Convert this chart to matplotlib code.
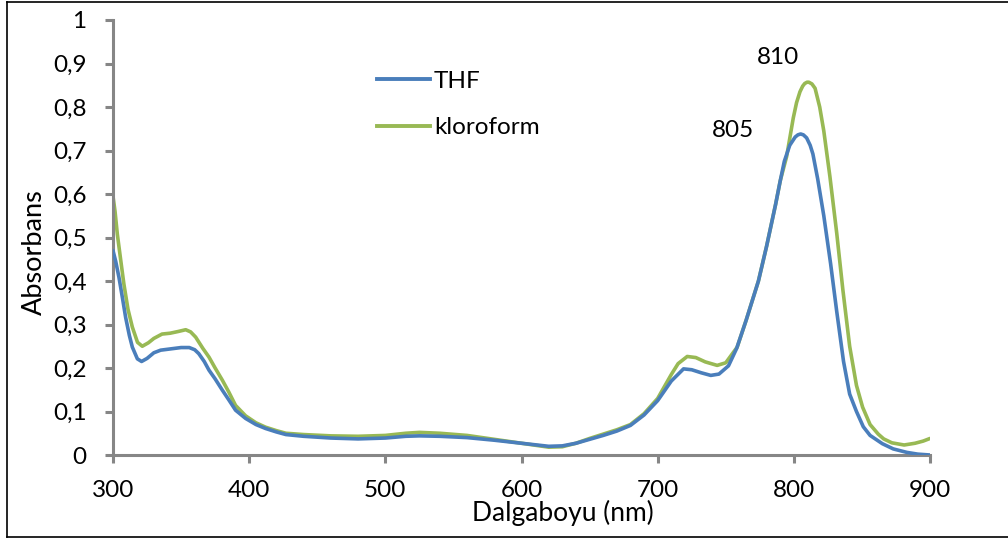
import matplotlib
matplotlib.use("Agg")
import matplotlib.pyplot as plt
from matplotlib.lines import Line2D

plt.rcParams['font.family'] = ['Lato', 'DejaVu Sans']

# Absorption spectra (wavelength in nm, absorbance)
thf_wl = [300, 302, 304.4, 307, 309.3, 312, 314.2, 317.9, 321, 325, 330, 335, 340, 345,
          350, 356, 360, 363, 367, 370.5, 375, 380.3, 385, 390, 397.4, 405, 412, 420,
          427, 440, 460, 480, 500, 515, 525, 540, 560, 580, 600, 620, 630, 640, 650,
          660, 670, 680, 690, 700, 710, 719, 725, 732, 739, 745, 752, 758, 765, 774,
          780, 786.6, 790, 793, 797, 801, 803, 805, 807, 809.4, 812, 814, 817.5, 822,
          827, 831.5, 836.5, 841, 846, 851, 856, 865, 873, 883, 891, 900]
thf_abs = [0.470, 0.445, 0.408, 0.360, 0.316, 0.275, 0.248, 0.221, 0.215, 0.222, 0.235,
           0.241, 0.243, 0.245, 0.247, 0.247, 0.242, 0.233, 0.215, 0.195, 0.175, 0.149,
           0.127, 0.103, 0.084, 0.070, 0.061, 0.053, 0.047, 0.043, 0.039, 0.037, 0.039,
           0.043, 0.044, 0.043, 0.040, 0.034, 0.027, 0.020, 0.021, 0.027, 0.036, 0.045,
           0.055, 0.068, 0.092, 0.125, 0.170, 0.198, 0.196, 0.189, 0.183, 0.186, 0.205,
           0.245, 0.310, 0.400, 0.480, 0.576, 0.630, 0.675, 0.712, 0.731, 0.736, 0.738,
           0.736, 0.729, 0.712, 0.692, 0.635, 0.550, 0.440, 0.330, 0.215, 0.140, 0.100,
           0.065, 0.045, 0.026, 0.014, 0.006, 0.002, 0.000]

chl_wl = [300, 301.5, 303.2, 306, 308, 311, 314.2, 318, 321.5, 326, 330, 336, 342, 348,
          353.4, 357, 360.7, 366, 370.5, 375, 380.3, 385, 390, 397.4, 405, 412, 420,
          427, 440, 460, 480, 500, 515, 525, 540, 560, 580, 600, 620, 630, 640, 650,
          660, 670, 680, 690, 700, 710, 715, 721.7, 728, 735, 743.7, 750, 758.4, 765,
          774, 780, 786.6, 790, 794.7, 799.6, 802, 804.5, 806.5, 808, 809.7, 811, 813.3,
          815.6, 819, 822, 826.5, 831.5, 836, 841, 846, 850.5, 856, 862, 866, 872, 881,
          889, 895, 900]
chl_abs = [0.595, 0.560, 0.507, 0.440, 0.393, 0.335, 0.294, 0.259, 0.250, 0.258, 0.268,
           0.278, 0.280, 0.284, 0.288, 0.283, 0.271, 0.245, 0.225, 0.200, 0.172, 0.145,
           0.114, 0.090, 0.074, 0.064, 0.056, 0.050, 0.047, 0.044, 0.043, 0.045, 0.050,
           0.052, 0.050, 0.045, 0.036, 0.027, 0.018, 0.019, 0.027, 0.038, 0.048, 0.058,
           0.070, 0.095, 0.130, 0.185, 0.210, 0.2265, 0.224, 0.214, 0.206, 0.212, 0.248,
           0.310, 0.400, 0.480, 0.576, 0.630, 0.686, 0.775, 0.810, 0.835, 0.848, 0.854,
           0.857, 0.857, 0.853, 0.843, 0.800, 0.745, 0.640, 0.510, 0.380, 0.250, 0.160,
           0.110, 0.070, 0.048, 0.037, 0.028, 0.023, 0.027, 0.032, 0.038]

series_labels = ["THF", "kloroform"]
series_colors = ["#4A7EBB", "#98B954"]

peak_labels = ["805", "810"]
peak_label_pos = [(755.3, 0.731), (788.4, 0.898)]

x_ticks = [300, 400, 500, 600, 700, 800, 900]
y_ticks = [0, 0.1, 0.2, 0.3, 0.4, 0.5, 0.6, 0.7, 0.8, 0.9, 1.0]
y_tick_labels = ["0", "0,1", "0,2", "0,3", "0,4", "0,5", "0,6", "0,7", "0,8", "0,9", "1"]

W, H = 1008, 539
fig = plt.figure(figsize=(W / 100, H / 100), dpi=100)
ax = fig.add_axes([113 / W, 1 - 455 / H, 817 / W, 435 / H])

ax.plot(thf_wl, thf_abs, color=series_colors[0], lw=2.6, solid_capstyle='round',
        solid_joinstyle='round', label=series_labels[0], zorder=3)
ax.plot(chl_wl, chl_abs, color=series_colors[1], lw=2.6, solid_capstyle='round',
        solid_joinstyle='round', label=series_labels[1], zorder=2)

ax.set_xlim(300, 900)
ax.set_ylim(0, 1)
ax.set_xticks(x_ticks)
ax.set_yticks(y_ticks)
ax.set_yticklabels(y_tick_labels)

axis_gray = "#868686"
for side in ("top", "right"):
    ax.spines[side].set_visible(False)
for side in ("left", "bottom"):
    ax.spines[side].set_color(axis_gray)
    ax.spines[side].set_linewidth(2.2)
ax.tick_params(axis='both', direction='out', length=6, width=2.2, color=axis_gray,
               labelsize=17.5, labelcolor='black', pad=13)
ax.tick_params(axis='x', pad=12)

ax.set_xlabel("Dalgaboyu (nm)", fontsize=19, va='baseline')
ax.xaxis.set_label_coords(0.551, -0.151)
ax.set_ylabel("Absorbans", fontsize=19.5, va='baseline')
ax.yaxis.set_label_coords(-0.0869, 0.467)

for txt, (px, py) in zip(peak_labels, peak_label_pos):
    ax.text(px, py, txt, fontsize=17.5, ha='center', va='baseline')

handles = [Line2D([0], [0], color=c, lw=2.8) for c in series_colors]
ax.legend(handles, series_labels, loc='upper left', bbox_to_anchor=(0.323, 0.883),
          frameon=False, fontsize=17.5, handlelength=2.18, handletextpad=0.16,
          labelspacing=1.05, borderaxespad=0, borderpad=0)

# thin frame around the drawing area
frame_kw = dict(color='black', lw=1.2, transform=fig.transFigure, clip_on=False)
x0, y_top, y_bot = 7 / W, 1 - 1.5 / H, 1 - 536.5 / H
fig.add_artist(Line2D([x0, 1], [y_top, y_top], **frame_kw))
fig.add_artist(Line2D([x0, x0], [y_top, y_bot], **frame_kw))
fig.add_artist(Line2D([x0, 1], [y_bot, y_bot], **frame_kw))

fig.savefig("out.png", dpi=100, facecolor='white')
